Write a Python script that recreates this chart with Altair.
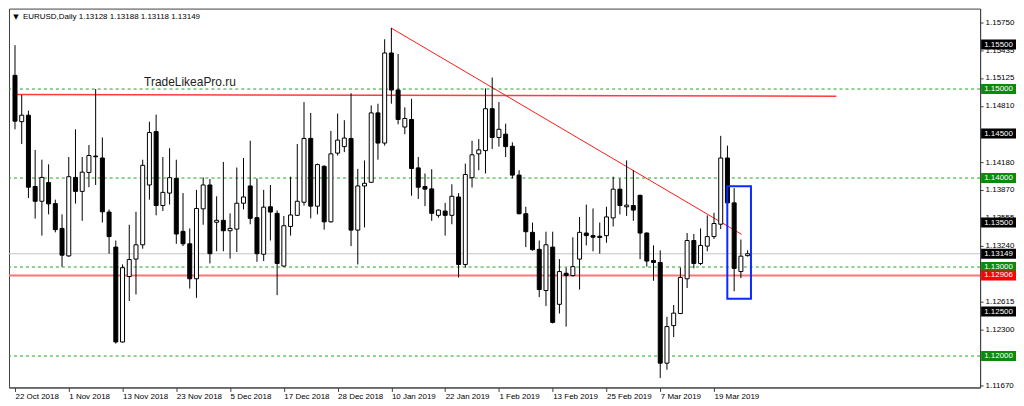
import json
import altair as alt
import pandas as pd

# ---------------- data ----------------
OPEN = [1.15154, 1.14633, 1.14706, 1.13905, 1.13739, 1.13949, 1.13713, 1.13434, 1.13125, 1.14007,
        1.13850, 1.14063, 1.14247, 1.14225, 1.13618, 1.13224, 1.12158, 1.12893, 1.13089, 1.13250,
        1.13922, 1.14522, 1.13691, 1.13831, 1.13996, 1.13401, 1.13261, 1.12868, 1.13654, 1.13922,
        1.13503, 1.13525, 1.13408, 1.13426, 1.13717, 1.13911, 1.13555, 1.13144, 1.13677, 1.13603,
        1.13011, 1.13456, 1.13581, 1.13728, 1.14445, 1.13684, 1.14132, 1.13508, 1.14280, 1.14353,
        1.14445, 1.13415, 1.13911, 1.13952, 1.14732, 1.14393, 1.15405, 1.14989, 1.14573, 1.14658,
        1.14114, 1.13905, 1.13878, 1.13581, 1.13629, 1.13581, 1.13787, 1.13029, 1.14004, 1.14272,
        1.14308, 1.14779, 1.14456, 1.14493, 1.14357, 1.14033, 1.13599, 1.13390, 1.13199, 1.12736,
        1.13224, 1.12581, 1.12930, 1.12904, 1.13089, 1.13382, 1.13353, 1.13346, 1.13353, 1.13552,
        1.13875, 1.13677, 1.13691, 1.13806, 1.13382, 1.13073, 1.13051, 1.11920, 1.12342, 1.12478,
        1.12868, 1.13298, 1.13040, 1.13235, 1.13342, 1.13481, 1.14225, 1.13721, 1.12949, 1.13128]
HIGH = [1.15493, 1.14934, 1.14757, 1.14316, 1.14206, 1.14154, 1.13757, 1.13592, 1.14236, 1.14548,
        1.14236, 1.14371, 1.15000, 1.14456, 1.13647, 1.13298, 1.13029, 1.13475, 1.13621, 1.14206,
        1.14633, 1.14713, 1.14236, 1.14335, 1.14206, 1.13831, 1.13434, 1.13867, 1.14007, 1.13989,
        1.13795, 1.14181, 1.13603, 1.14118, 1.14225, 1.14419, 1.13996, 1.13867, 1.13922, 1.13636,
        1.13574, 1.14015, 1.14382, 1.14853, 1.14732, 1.14162, 1.14143, 1.14529, 1.14724, 1.14650,
        1.14953, 1.14103, 1.14198, 1.14816, 1.14835, 1.15559, 1.15687, 1.15394, 1.14794, 1.14890,
        1.14236, 1.14051, 1.14099, 1.13647, 1.13721, 1.13930, 1.13831, 1.14162, 1.14419, 1.14438,
        1.15008, 1.15129, 1.14853, 1.14611, 1.14401, 1.14088, 1.13677, 1.13500, 1.13298, 1.13397,
        1.13397, 1.13089, 1.12993, 1.13335, 1.13563, 1.13702, 1.13658, 1.13500, 1.13677, 1.14015,
        1.13996, 1.14198, 1.14088, 1.13812, 1.13390, 1.13243, 1.13188, 1.12441, 1.12574, 1.12993,
        1.13382, 1.13371, 1.13434, 1.13581, 1.13610, 1.14474, 1.14364, 1.13886, 1.13309, 1.13188]
LOW = [1.14548, 1.14382, 1.13776, 1.13544, 1.13353, 1.13592, 1.13390, 1.13004, 1.13114, 1.13713,
       1.13519, 1.13897, 1.13922, 1.13500, 1.13150, 1.12140, 1.12151, 1.12618, 1.12692, 1.13206,
       1.13757, 1.13581, 1.13629, 1.13702, 1.13261, 1.13235, 1.12758, 1.12654, 1.13475, 1.13040,
       1.13177, 1.13177, 1.13095, 1.13169, 1.13647, 1.13481, 1.13059, 1.13067, 1.13298, 1.12684,
       1.13004, 1.13353, 1.13574, 1.13691, 1.13547, 1.13592, 1.13420, 1.13500, 1.14253, 1.14291,
       1.13235, 1.13029, 1.13445, 1.13949, 1.14206, 1.14364, 1.14835, 1.14603, 1.14493, 1.13801,
       1.13765, 1.13684, 1.13519, 1.13555, 1.13353, 1.13481, 1.12882, 1.12993, 1.13894, 1.14088,
       1.14051, 1.14327, 1.14353, 1.14236, 1.13996, 1.13592, 1.13224, 1.13184, 1.12662, 1.12563,
       1.12367, 1.12478, 1.12331, 1.12893, 1.12747, 1.13243, 1.13177, 1.13150, 1.13272, 1.13456,
       1.13592, 1.13574, 1.13519, 1.13089, 1.13004, 1.12846, 1.11754, 1.11846, 1.12213, 1.12471,
       1.12764, 1.12985, 1.13022, 1.13177, 1.13316, 1.13426, 1.13702, 1.12728, 1.12875, 1.13118]
CLOSE = [1.14639, 1.14706, 1.13897, 1.13739, 1.14007, 1.13710, 1.13420, 1.13133, 1.14015, 1.13850,
         1.14066, 1.14253, 1.14239, 1.13621, 1.13342, 1.12158, 1.12993, 1.13084, 1.13250, 1.14143,
         1.14511, 1.13691, 1.13839, 1.14004, 1.13371, 1.13261, 1.12868, 1.13658, 1.13922, 1.13150,
         1.13525, 1.13408, 1.13434, 1.13717, 1.13787, 1.13547, 1.13150, 1.13673, 1.13618, 1.13040,
         1.13464, 1.13585, 1.13739, 1.14445, 1.13684, 1.14151, 1.13508, 1.14272, 1.14426, 1.14449,
         1.13415, 1.13911, 1.13941, 1.14732, 1.14393, 1.15405, 1.14989, 1.14658, 1.14669, 1.14107,
         1.13897, 1.13875, 1.13603, 1.13640, 1.13581, 1.13795, 1.13029, 1.14040, 1.14261, 1.14316,
         1.14779, 1.14456, 1.14548, 1.14353, 1.14033, 1.13599, 1.13397, 1.13195, 1.12747, 1.13250,
         1.12378, 1.12949, 1.12904, 1.13004, 1.13390, 1.13353, 1.13335, 1.13332, 1.13563, 1.13875,
         1.13691, 1.13695, 1.13640, 1.13382, 1.13067, 1.13051, 1.11920, 1.12331, 1.12482, 1.12882,
         1.13298, 1.13040, 1.13243, 1.13342, 1.13489, 1.14225, 1.13721, 1.12985, 1.13122, 1.13149]

TICK_POS = [0, 8, 16, 24, 32, 40, 48, 56, 64, 72, 80, 88, 96, 104]
TICK_LABELS = ["22 Oct 2018", "1 Nov 2018", "13 Nov 2018", "23 Nov 2018", "5 Dec 2018",
               "17 Dec 2018", "28 Dec 2018", "10 Jan 2019", "22 Jan 2019", "1 Feb 2019",
               "13 Feb 2019", "25 Feb 2019", "7 Mar 2019", "19 Mar 2019"]
PRICE_TICKS = [1.15750, 1.15435, 1.15125, 1.14810, 1.14500, 1.14180, 1.13870, 1.13555,
               1.13240, 1.12615, 1.12300, 1.11670]
GREEN_LEVELS = [1.15, 1.14, 1.13, 1.12]
SUPPORT_LEVEL = 1.12906
LAST_PRICE = 1.13149
BOX_VALUES = [1.15500, 1.15000, 1.14500, 1.14000, 1.13500, 1.13149, 1.13000, 1.12906, 1.12500, 1.12000]
BOX_TEXT = ["1.15500", "1.15000", "1.14500", "1.14000", "1.13500", "1.13149", "1.13000", "1.12906", "1.12500", "1.12000"]
BOX_KIND = ["black", "green", "black", "green", "black", "black", "green", "red", "black", "green"]
TREND_X = [56, 108.1]
TREND_Y = [1.15684, 1.13368]
UPPER_X = [-0.15, 122.2]
UPPER_Y = [1.14940, 1.14920]
FRAME_X = [105.98, 109.5]
FRAME_Y = [1.12643, 1.13908]
TITLE = "EURUSD,Daily  1.13128 1.13188 1.13118 1.13149"
WATERMARK = "TradeLikeaPro.ru"
WM_X = 19.2
WM_Y = 1.15077

# ---------------- build ----------------
W, H = 974, 380
FONT = "Liberation Sans"

df = pd.DataFrame({"i": list(range(len(OPEN))), "open": OPEN, "high": HIGH, "low": LOW, "close": CLOSE})
df["lo"] = df[["open", "close"]].min(axis=1)
df["hi"] = df[["open", "close"]].max(axis=1)
df["up"] = df["close"] >= df["open"]

xs = alt.Scale(domain=[-0.15, 142.85], nice=False, zero=False)
ys = alt.Scale(domain=[1.11647, 1.15904], nice=False, zero=False)

label_expr = f"{json.dumps(TICK_LABELS)}[indexof({json.dumps(TICK_POS)}, datum.value)]"
x_axis = alt.Axis(values=TICK_POS, labelExpr=label_expr, title=None, grid=False, tickSize=4,
                  labelAlign="left", labelPadding=1, labelOverlap=False, labelFlush=False)
y_axis = alt.Axis(values=PRICE_TICKS, format=".5f", orient="right", title=None, grid=False,
                  tickSize=3, labelPadding=2, labelOverlap=False, labelFlush=False)


def X(f):
    return alt.X(f, type="quantitative", scale=xs, axis=x_axis)


def Y(f):
    return alt.Y(f, type="quantitative", scale=ys, axis=y_axis)


base = alt.Chart(df)

wicks = base.mark_rule(color="black", strokeWidth=1).encode(x=X("i"), y=Y("low"), y2="high")
bodies = base.mark_bar(width=4, stroke="black", strokeWidth=1).encode(
    x=X("i"), y=Y("lo"), y2="hi",
    fill=alt.condition(alt.datum.up, alt.value("white"), alt.value("black")),
)

green = alt.Chart(pd.DataFrame({"v": GREEN_LEVELS})).mark_rule(
    color="#1fa51f", strokeDash=[3, 3], strokeWidth=1).encode(y=Y("v"))
last = alt.Chart(pd.DataFrame({"v": [LAST_PRICE]})).mark_rule(
    color="#c4c4c4", strokeWidth=1).encode(y=Y("v"))
support = alt.Chart(pd.DataFrame({"v": [SUPPORT_LEVEL]})).mark_rule(
    color="#ff7474", strokeWidth=2).encode(y=Y("v"))

upper = alt.Chart(pd.DataFrame({"x": UPPER_X, "y": UPPER_Y})).mark_line(
    color="#ff3b3b", strokeWidth=1.5).encode(x=X("x"), y=Y("y"))
trend = alt.Chart(pd.DataFrame({"x": TREND_X, "y": TREND_Y})).mark_line(
    color="#ff1a1a", strokeWidth=1).encode(x=X("x"), y=Y("y"))

frame = alt.Chart(pd.DataFrame({"x": [FRAME_X[0]], "x2": [FRAME_X[1]],
                                "y": [FRAME_Y[0]], "y2": [FRAME_Y[1]]})).mark_rect(
    fillOpacity=0, stroke="#0a2bff", strokeWidth=2).encode(x=X("x"), x2="x2", y=Y("y"), y2="y2")

wm = alt.Chart(pd.DataFrame({"x": [WM_X], "y": [WM_Y], "t": [WATERMARK]})).mark_text(
    align="left", baseline="middle", font=FONT, fontSize=12, color="#222222").encode(
    x=X("x"), y=Y("y"), text="t:N")

title_df = pd.DataFrame({"t": [TITLE], "tri": ["\u25bc"]})
title_txt = alt.Chart(title_df).mark_text(
    align="left", baseline="middle", font=FONT, fontSize=8, color="black").encode(
    x=alt.value(14), y=alt.value(8), text="t:N")
title_tri = alt.Chart(title_df).mark_text(
    align="center", baseline="middle", font="DejaVu Sans", fontSize=7, color="black").encode(
    x=alt.value(7), y=alt.value(8), text="tri:N")

color_map = {"black": "#000000", "green": "#0b8a0b", "red": "#ff0000"}
box_df = pd.DataFrame({"v": BOX_VALUES, "t": BOX_TEXT, "col": [color_map[k] for k in BOX_KIND]})
BOX_PATH = "M-1,-0.2857L1,-0.2857L1,0.2857L-1,0.2857Z"
boxes = alt.Chart(box_df).mark_point(shape=BOX_PATH, size=1225, filled=True, opacity=1,
                                     strokeWidth=0).encode(
    x=alt.value(W + 18.5), y=Y("v"), color=alt.Color("col:N", scale=None))
box_text = alt.Chart(box_df).mark_text(
    align="center", baseline="middle", font=FONT, fontSize=8, color="white").encode(
    x=alt.value(W + 18.5), y=Y("v"), text="t:N")

chart = alt.layer(
    green, last, support, upper, trend, wicks, bodies, frame, wm, title_tri, title_txt, boxes, box_text
).properties(
    width=W, height=H, padding=0
).configure_view(
    stroke="#404040", strokeWidth=1
).configure_axis(
    domainColor="#404040", tickColor="#404040", labelFont=FONT, labelFontSize=8, labelColor="black"
)

chart.save("out.html", embed_options={"renderer": "svg", "actions": False})
